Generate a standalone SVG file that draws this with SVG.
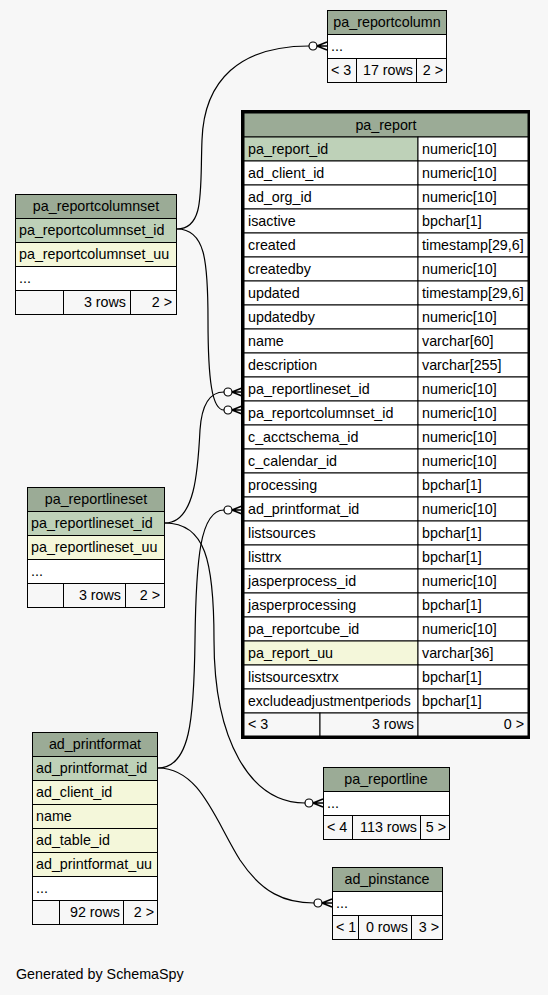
<svg xmlns="http://www.w3.org/2000/svg" width="548" height="995" viewBox="0 0 548 995">
<style>
text{font-family:"Liberation Sans",Arial,sans-serif;font-size:14.3px;fill:#000}
.c{text-anchor:middle}
.r{text-anchor:end}
.h{fill:#9bab96;stroke:#000;stroke-width:1}
.pk{fill:#bed1b8;stroke:#000;stroke-width:1}
.uu{fill:#f4f7da;stroke:#000;stroke-width:1}
.w{fill:#fff;stroke:#000;stroke-width:1}
.f{fill:#f7f7f7;stroke:#000;stroke-width:1}
.e{fill:none;stroke:#000;stroke-width:1.2}
.dot{fill:#fff;stroke:#000;stroke-width:1.2}
.crow{fill:none;stroke:#000;stroke-width:1.5}
</style>
<rect width="548" height="995" fill="#f7f7f7"/>

<g id="connectors">
<path class="e" d="M177,229 C205,229 200,190 202,140 C204,80 240,46 309,46"/>
<circle class="dot" cx="313" cy="46" r="4"/>
<path class="crow" d="M317,46 L327,42 M317,46 L327,46 M317,46 L327,50"/>

<path class="e" d="M177,229 C205,229 208,260 208,320 C208,380 212,410 224,410"/>
<circle class="dot" cx="228" cy="410" r="4"/>
<path class="crow" d="M232,410 L242,406 M232,410 L242,410 M232,410 L242,414"/>

<path class="e" d="M165,523 C195,523 198,470 200,430 C202,400 212,392 224,392"/>
<circle class="dot" cx="228" cy="392" r="4"/>
<path class="crow" d="M232,392 L242,388 M232,392 L242,392 M232,392 L242,396"/>

<path class="e" d="M165,523 C205,523 214,560 214,640 C214,740 250,803 305,803"/>
<circle class="dot" cx="309" cy="803" r="4"/>
<path class="crow" d="M313,803 L323,799 M313,803 L323,803 M313,803 L323,807"/>

<path class="e" d="M158,768 C190,768 194,720 195,640 C196,560 200,510 224,510"/>
<circle class="dot" cx="228" cy="510" r="4"/>
<path class="crow" d="M232,510 L242,506 M232,510 L242,510 M232,510 L242,514"/>

<path class="e" d="M158,768 C200,768 215,820 240,860 C262,893 285,903 314,903"/>
<circle class="dot" cx="318" cy="903" r="4"/>
<path class="crow" d="M322,903 L332,899 M322,903 L332,903 M322,903 L332,907"/>
</g>

<g id="pa_reportcolumn">
<rect class="h" x="327.5" y="10.5" width="119" height="24"/>
<text class="c" x="387" y="27">pa_reportcolumn</text>
<rect class="w" x="327.5" y="34.5" width="119" height="24"/>
<text x="331" y="51">...</text>
<rect class="f" x="327.5" y="58.5" width="29" height="24"/>
<rect class="f" x="356.5" y="58.5" width="60" height="24"/>
<rect class="f" x="416.5" y="58.5" width="30" height="24"/>
<text x="331" y="75">&lt; 3</text>
<text class="r" x="413" y="75">17 rows</text>
<text class="r" x="443" y="75">2 &gt;</text>
</g>

<g id="pa_report">
<rect x="242.5" y="111.5" width="286" height="626" fill="#fff" stroke="#000" stroke-width="3"/>
<rect class="h" x="244" y="113" width="284" height="24"/>
<text class="c" x="386" y="130">pa_report</text>
<rect class="pk" x="244" y="137" width="174" height="24"/><rect class="w" x="418" y="137" width="110" height="24"/>
<text x="248" y="154">pa_report_id</text><text x="422" y="154">numeric[10]</text>
<rect class="w" x="244" y="161" width="174" height="24"/><rect class="w" x="418" y="161" width="110" height="24"/>
<text x="248" y="178">ad_client_id</text><text x="422" y="178">numeric[10]</text>
<rect class="w" x="244" y="185" width="174" height="24"/><rect class="w" x="418" y="185" width="110" height="24"/>
<text x="248" y="202">ad_org_id</text><text x="422" y="202">numeric[10]</text>
<rect class="w" x="244" y="209" width="174" height="24"/><rect class="w" x="418" y="209" width="110" height="24"/>
<text x="248" y="226">isactive</text><text x="422" y="226">bpchar[1]</text>
<rect class="w" x="244" y="233" width="174" height="24"/><rect class="w" x="418" y="233" width="110" height="24"/>
<text x="248" y="250">created</text><text x="422" y="250">timestamp[29,6]</text>
<rect class="w" x="244" y="257" width="174" height="24"/><rect class="w" x="418" y="257" width="110" height="24"/>
<text x="248" y="274">createdby</text><text x="422" y="274">numeric[10]</text>
<rect class="w" x="244" y="281" width="174" height="24"/><rect class="w" x="418" y="281" width="110" height="24"/>
<text x="248" y="298">updated</text><text x="422" y="298">timestamp[29,6]</text>
<rect class="w" x="244" y="305" width="174" height="24"/><rect class="w" x="418" y="305" width="110" height="24"/>
<text x="248" y="322">updatedby</text><text x="422" y="322">numeric[10]</text>
<rect class="w" x="244" y="329" width="174" height="24"/><rect class="w" x="418" y="329" width="110" height="24"/>
<text x="248" y="346">name</text><text x="422" y="346">varchar[60]</text>
<rect class="w" x="244" y="353" width="174" height="24"/><rect class="w" x="418" y="353" width="110" height="24"/>
<text x="248" y="370">description</text><text x="422" y="370">varchar[255]</text>
<rect class="w" x="244" y="377" width="174" height="24"/><rect class="w" x="418" y="377" width="110" height="24"/>
<text x="248" y="394">pa_reportlineset_id</text><text x="422" y="394">numeric[10]</text>
<rect class="w" x="244" y="401" width="174" height="24"/><rect class="w" x="418" y="401" width="110" height="24"/>
<text x="248" y="418">pa_reportcolumnset_id</text><text x="422" y="418">numeric[10]</text>
<rect class="w" x="244" y="425" width="174" height="24"/><rect class="w" x="418" y="425" width="110" height="24"/>
<text x="248" y="442">c_acctschema_id</text><text x="422" y="442">numeric[10]</text>
<rect class="w" x="244" y="449" width="174" height="24"/><rect class="w" x="418" y="449" width="110" height="24"/>
<text x="248" y="466">c_calendar_id</text><text x="422" y="466">numeric[10]</text>
<rect class="w" x="244" y="473" width="174" height="24"/><rect class="w" x="418" y="473" width="110" height="24"/>
<text x="248" y="490">processing</text><text x="422" y="490">bpchar[1]</text>
<rect class="w" x="244" y="497" width="174" height="24"/><rect class="w" x="418" y="497" width="110" height="24"/>
<text x="248" y="514">ad_printformat_id</text><text x="422" y="514">numeric[10]</text>
<rect class="w" x="244" y="521" width="174" height="24"/><rect class="w" x="418" y="521" width="110" height="24"/>
<text x="248" y="538">listsources</text><text x="422" y="538">bpchar[1]</text>
<rect class="w" x="244" y="545" width="174" height="24"/><rect class="w" x="418" y="545" width="110" height="24"/>
<text x="248" y="562">listtrx</text><text x="422" y="562">bpchar[1]</text>
<rect class="w" x="244" y="569" width="174" height="24"/><rect class="w" x="418" y="569" width="110" height="24"/>
<text x="248" y="586">jasperprocess_id</text><text x="422" y="586">numeric[10]</text>
<rect class="w" x="244" y="593" width="174" height="24"/><rect class="w" x="418" y="593" width="110" height="24"/>
<text x="248" y="610">jasperprocessing</text><text x="422" y="610">bpchar[1]</text>
<rect class="w" x="244" y="617" width="174" height="24"/><rect class="w" x="418" y="617" width="110" height="24"/>
<text x="248" y="634">pa_reportcube_id</text><text x="422" y="634">numeric[10]</text>
<rect class="uu" x="244" y="641" width="174" height="24"/><rect class="w" x="418" y="641" width="110" height="24"/>
<text x="248" y="658">pa_report_uu</text><text x="422" y="658">varchar[36]</text>
<rect class="w" x="244" y="665" width="174" height="24"/><rect class="w" x="418" y="665" width="110" height="24"/>
<text x="248" y="682">listsourcesxtrx</text><text x="422" y="682">bpchar[1]</text>
<rect class="w" x="244" y="689" width="174" height="24"/><rect class="w" x="418" y="689" width="110" height="24"/>
<text x="248" y="706" style="font-size:14px">excludeadjustmentperiods</text><text x="422" y="706">bpchar[1]</text>
<rect class="f" x="244" y="713" width="76" height="23"/>
<rect class="f" x="320" y="713" width="98" height="23"/>
<rect class="f" x="418" y="713" width="110" height="23"/>
<text x="248" y="729">&lt; 3</text>
<text class="r" x="414" y="729">3 rows</text>
<text class="r" x="524" y="729">0 &gt;</text>
</g>

<g id="pa_reportcolumnset">
<rect class="h" x="15.5" y="194.5" width="161" height="24"/>
<text class="c" x="96" y="211">pa_reportcolumnset</text>
<rect class="pk" x="15.5" y="218.5" width="161" height="24"/>
<text x="19" y="235">pa_reportcolumnset_id</text>
<rect class="uu" x="15.5" y="242.5" width="161" height="24"/>
<text x="19" y="259">pa_reportcolumnset_uu</text>
<rect class="w" x="15.5" y="266.5" width="161" height="24"/>
<text x="19" y="283">...</text>
<rect class="f" x="15.5" y="290.5" width="48" height="24"/>
<rect class="f" x="63.5" y="290.5" width="67" height="24"/>
<rect class="f" x="130.5" y="290.5" width="46" height="24"/>
<text class="r" x="126" y="307">3 rows</text>
<text class="r" x="172" y="307">2 &gt;</text>
</g>

<g id="pa_reportlineset">
<rect class="h" x="27.5" y="487.5" width="137" height="24"/>
<text class="c" x="96" y="504">pa_reportlineset</text>
<rect class="pk" x="27.5" y="511.5" width="137" height="24"/>
<text x="31" y="528">pa_reportlineset_id</text>
<rect class="uu" x="27.5" y="535.5" width="137" height="24"/>
<text x="31" y="552">pa_reportlineset_uu</text>
<rect class="w" x="27.5" y="559.5" width="137" height="24"/>
<text x="31" y="576">...</text>
<rect class="f" x="27.5" y="583.5" width="36" height="24"/>
<rect class="f" x="63.5" y="583.5" width="62" height="24"/>
<rect class="f" x="125.5" y="583.5" width="39" height="24"/>
<text class="r" x="121" y="600">3 rows</text>
<text class="r" x="160" y="600">2 &gt;</text>
</g>

<g id="ad_printformat">
<rect class="h" x="32.5" y="732.5" width="125" height="24"/>
<text class="c" x="95" y="749">ad_printformat</text>
<rect class="pk" x="32.5" y="756.5" width="125" height="24"/>
<text x="36" y="773">ad_printformat_id</text>
<rect class="uu" x="32.5" y="780.5" width="125" height="24"/>
<text x="36" y="797">ad_client_id</text>
<rect class="uu" x="32.5" y="804.5" width="125" height="24"/>
<text x="36" y="821">name</text>
<rect class="uu" x="32.5" y="828.5" width="125" height="24"/>
<text x="36" y="845">ad_table_id</text>
<rect class="uu" x="32.5" y="852.5" width="125" height="24"/>
<text x="36" y="869">ad_printformat_uu</text>
<rect class="w" x="32.5" y="876.5" width="125" height="24"/>
<text x="36" y="893">...</text>
<rect class="f" x="32.5" y="900.5" width="27" height="24"/>
<rect class="f" x="59.5" y="900.5" width="64" height="24"/>
<rect class="f" x="123.5" y="900.5" width="34" height="24"/>
<text class="r" x="120" y="917">92 rows</text>
<text class="r" x="154" y="917">2 &gt;</text>
</g>

<g id="pa_reportline">
<rect class="h" x="323.5" y="767.5" width="126" height="24"/>
<text class="c" x="386" y="784">pa_reportline</text>
<rect class="w" x="323.5" y="791.5" width="126" height="24"/>
<text x="327" y="808">...</text>
<rect class="f" x="323.5" y="815.5" width="29" height="24"/>
<rect class="f" x="352.5" y="815.5" width="68" height="24"/>
<rect class="f" x="420.5" y="815.5" width="29" height="24"/>
<text x="327" y="832">&lt; 4</text>
<text class="r" x="417" y="832">113 rows</text>
<text class="r" x="446" y="832">5 &gt;</text>
</g>

<g id="ad_pinstance">
<rect class="h" x="332.5" y="867.5" width="110" height="24"/>
<text class="c" x="387" y="884">ad_pinstance</text>
<rect class="w" x="332.5" y="891.5" width="110" height="24"/>
<text x="336" y="908">...</text>
<rect class="f" x="332.5" y="915.5" width="26" height="24"/>
<rect class="f" x="358.5" y="915.5" width="53" height="24"/>
<rect class="f" x="411.5" y="915.5" width="31" height="24"/>
<text x="336" y="932">&lt; 1</text>
<text class="r" x="408" y="932">0 rows</text>
<text class="r" x="439" y="932">3 &gt;</text>
</g>

<text x="16" y="979">Generated by SchemaSpy</text>
</svg>
